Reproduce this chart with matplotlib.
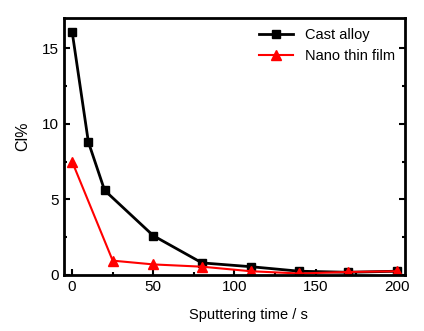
import matplotlib
matplotlib.use("Agg")
import matplotlib.pyplot as plt
from matplotlib.ticker import MultipleLocator

plt.rcParams['font.family'] = ['Liberation Sans', 'DejaVu Sans']

# data
t_cast = [0, 10, 20, 50, 80, 110, 140, 170, 200]
cl_cast = [16.1, 8.8, 5.6, 2.6, 0.8, 0.55, 0.25, 0.18, 0.25]
t_film = [0, 25, 50, 80, 110, 140, 170, 200]
cl_film = [7.5, 0.95, 0.7, 0.55, 0.25, 0.1, 0.2, 0.25]

fig = plt.figure(figsize=(4.24, 3.31), dpi=100)
ax = fig.add_axes([64/424, 1-275/331, (405-64)/424, (275-18)/331])

ax.plot(t_cast, cl_cast, color='black', lw=2, marker='s', ms=6, label='Cast alloy')
ax.plot(t_film, cl_film, color='red', lw=1.5, marker='^', ms=7, label='Nano thin film')

ax.set_xlim(-5, 205)
ax.set_ylim(0, 17)
ax.xaxis.set_major_locator(MultipleLocator(50))
ax.xaxis.set_minor_locator(MultipleLocator(25))
ax.yaxis.set_major_locator(MultipleLocator(5))
ax.yaxis.set_minor_locator(MultipleLocator(2.5))
ax.tick_params(which='both', direction='in', right=True, labelsize=11, width=1.5)
ax.tick_params(which='major', length=4)
ax.tick_params(which='minor', length=2.5)
for s in ax.spines.values():
    s.set_linewidth(2)

ax.set_xlabel('Sputtering time / s', fontsize=10.5)
ax.xaxis.set_label_coords(0.54, -0.128)
ax.set_ylabel('Cl%', fontsize=11.5)
ax.yaxis.set_label_coords(-0.10, 0.54)

ax.legend(loc='upper right', frameon=False, fontsize=10.5, handlelength=2.3,
          borderaxespad=0.3, labelspacing=0.45)

fig.savefig('out.png', dpi=100)
